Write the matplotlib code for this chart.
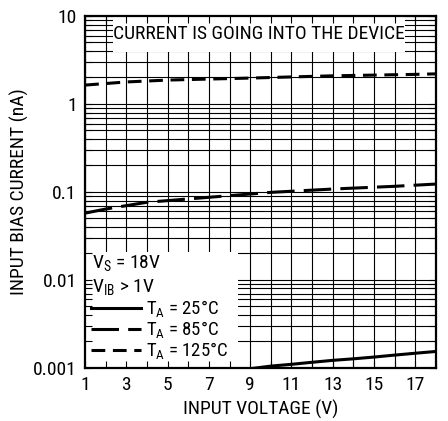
import numpy as np
import matplotlib.pyplot as plt
from matplotlib.patches import Rectangle
from matplotlib.ticker import LogLocator, NullFormatter, FixedLocator

FONTS = ['Roboto Condensed', 'Roboto', 'DejaVu Sans']
plt.rcParams['font.family'] = FONTS
plt.rcParams['mathtext.fontset'] = 'custom'
plt.rcParams['mathtext.rm'] = FONTS[0]

# values
v_125 = [1, 3, 5, 7, 9, 11, 13, 15, 17, 18]
i_125 = [1.64, 1.78, 1.87, 1.92, 1.97, 2.03, 2.09, 2.13, 2.17, 2.2]

v_85 = [1, 2, 4, 7, 10, 13, 16, 18]
i_85 = [0.0575, 0.064, 0.0764, 0.087, 0.099, 0.108, 0.116, 0.123]

v_25 = [8, 9, 10, 11, 12, 13, 14, 15, 16, 17, 18]
i_25 = [0.00093, 0.00098, 0.00105, 0.0011, 0.00116, 0.00122, 0.00127, 0.00133, 0.0014, 0.00147, 0.00154]

xticks = [1, 3, 5, 7, 9, 11, 13, 15, 17]
yticks = [0.001, 0.01, 0.1, 1, 10]
ylabels = ['0.001', '0.01', '0.1', '1', '10']

FS = 14

fig = plt.figure(figsize=(4.48, 4.21), dpi=100)
pos = [0.19, 0.126, 0.783, 0.836]
ax = fig.add_axes(pos)
ax.set_yscale('log')
ax.set_xlim(1, 18)
ax.set_ylim(0.001, 10)

# grid below everything
ax.set_axisbelow(True)
ax.xaxis.set_minor_locator(FixedLocator(range(1, 19)))
ax.yaxis.set_minor_locator(LogLocator(base=10, subs=np.arange(2, 10)))
ax.yaxis.set_minor_formatter(NullFormatter())
ax.grid(True, which='both', color='black', lw=0.8)
ax.set_xticks(xticks)
ax.set_yticks(yticks)
ax.set_yticklabels(ylabels)
ax.tick_params(which='both', length=0, labelsize=FS, pad=6)
for s in ax.spines.values():
    s.set_visible(False)

# white boxes over the grid
ax.add_patch(Rectangle((0, 0), 0.436, 0.33, transform=ax.transAxes,
                       facecolor='white', edgecolor='none', zorder=1))
ax.add_patch(Rectangle((0.08, 0.898), 0.832, 0.102, transform=ax.transAxes,
                       facecolor='white', edgecolor='none', zorder=1))
ax.text(0.496, 0.949, 'CURRENT IS GOING INTO THE DEVICE', transform=ax.transAxes,
        ha='center', va='center', fontsize=FS, zorder=3)

l25, = ax.plot(v_25, i_25, color='black', lw=2.2, zorder=2)
l85, = ax.plot(v_85, i_85, color='black', lw=2.2, dashes=(9, 3), zorder=2)
l125, = ax.plot(v_125, i_125, color='black', lw=2.2, dashes=(4.5, 2.5), zorder=2)

ax.text(0.02, 0.295, r'V$_\mathregular{S}$ = 18V', transform=ax.transAxes,
        ha='left', va='center', fontsize=FS, zorder=3)
ax.text(0.02, 0.227, r'V$_\mathregular{IB}$ > 1V', transform=ax.transAxes,
        ha='left', va='center', fontsize=FS, zorder=3)
leg = ax.legend([l25, l85, l125],
                [r'T$_\mathregular{A}$ = 25°C', r'T$_\mathregular{A}$ = 85°C', r'T$_\mathregular{A}$ = 125°C'],
                loc='lower left', bbox_to_anchor=(0.0, 0.0), frameon=False,
                fontsize=13.5, handlelength=2.7, handletextpad=0.25,
                labelspacing=0.0, borderpad=0.1, borderaxespad=0.2)
leg.set_zorder(4)

ax.set_xlabel('INPUT VOLTAGE (V)', fontsize=FS, labelpad=4)
ax.set_ylabel('INPUT BIAS CURRENT (nA)', fontsize=FS, labelpad=3)

# overlay axes for the inward ticks and frame on top of the boxes
ov = fig.add_axes(pos, facecolor='none')
ov.set_yscale('log')
ov.set_xlim(1, 18)
ov.set_ylim(0.001, 10)
ov.set_xticks(range(1, 19))
ov.yaxis.set_minor_locator(LogLocator(base=10, subs=np.arange(2, 10)))
ov.tick_params(which='both', direction='in', length=5, width=0.8,
               top=True, right=True, labelbottom=False, labelleft=False)
for s in ov.spines.values():
    s.set_linewidth(1.6)

fig.savefig('out.png', dpi=100)
